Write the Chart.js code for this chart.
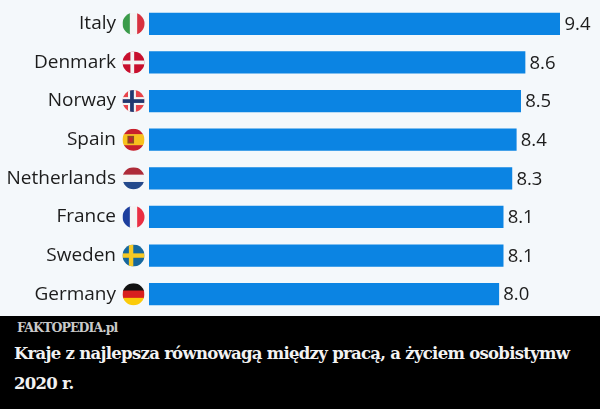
<!DOCTYPE html>
<html lang="pl">
<head>
<meta charset="utf-8">
<style>
  html, body { margin: 0; padding: 0; width: 600px; height: 409px; overflow: hidden; background: #000; }
  #plot { width: 600px; height: 316px; background: #f4f8fb; }
  canvas { display: block; }
  #footer { position: relative; height: 93px; background: #000; font-family: "DejaVu Serif", serif; font-weight: bold; }
  #brand { position: absolute; left: 17px; top: 2px; font-size: 12.5px; line-height: 19px; letter-spacing: -0.9px; color: #c9c9c9; }
  #caption { position: absolute; left: 14px; top: 23px; width: 570px; font-size: 16.5px; line-height: 30px; letter-spacing: -0.72px; color: #f2f2f2; }
</style>
</head>
<body>
<div id="plot"><canvas id="chart" width="600" height="316"></canvas></div>
<div id="footer">
  <div id="brand">FAKTOPEDIA.pl</div>
  <div id="caption">Kraje z najlepsza równowagą między pracą, a życiem osobistymw 2020 r.</div>
</div>
<script src="https://cdn.jsdelivr.net/npm/chart.js@4"></script>
<script>
const countries = ['Italy', 'Denmark', 'Norway', 'Spain', 'Netherlands', 'France', 'Sweden', 'Germany'];
const scores = [9.4, 8.6, 8.5, 8.4, 8.3, 8.1, 8.1, 8.0];

// flags, drawn inside a circle of radius r around the origin
const flags = {
  Italy(c, r) {
    stripesV(c, r, ['#3a9b4a', '#f4f4f4', '#d8313f']);
  },
  Denmark(c, r) {
    c.fillStyle = '#c8102e';
    c.fillRect(-r, -r, 2 * r, 2 * r);
    c.fillStyle = '#f4f4f4';
    c.fillRect(-r, -r * 0.17, 2 * r, r * 0.34);
    c.fillRect(-r * 0.28, -r, r * 0.34, 2 * r);
  },
  Norway(c, r) {
    c.fillStyle = '#e8434a';
    c.fillRect(-r, -r, 2 * r, 2 * r);
    c.fillStyle = '#f4f4f4';
    c.fillRect(-r, -r * 0.36, 2 * r, r * 0.72);
    c.fillRect(-r * 0.5, -r, r * 0.72, 2 * r);
    c.fillStyle = '#22386f';
    c.fillRect(-r, -r * 0.17, 2 * r, r * 0.34);
    c.fillRect(-r * 0.31, -r, r * 0.34, 2 * r);
  },
  Spain(c, r) {
    stripesH(c, r, ['#c8202c', '#f7c11e', '#f7c11e', '#c8202c']);
    c.fillStyle = '#8f4a22';
    c.fillRect(-r * 0.55, -r * 0.35, r * 0.6, r * 0.7);
    c.fillStyle = '#c8202c';
    c.fillRect(-r * 0.4, -r * 0.2, r * 0.3, r * 0.4);
  },
  Netherlands(c, r) {
    stripesH(c, r, ['#ae2b38', '#f4f4f4', '#254a8c']);
  },
  France(c, r) {
    stripesV(c, r, ['#1d3f9e', '#f4f4f4', '#ea2f43']);
  },
  Sweden(c, r) {
    c.fillStyle = '#16689e';
    c.fillRect(-r, -r, 2 * r, 2 * r);
    c.fillStyle = '#f6c925';
    c.fillRect(-r, -r * 0.2, 2 * r, r * 0.4);
    c.fillRect(-r * 0.42, -r, r * 0.4, 2 * r);
  },
  Germany(c, r) {
    stripesH(c, r, ['#111111', '#d8201f', '#fbcb0a']);
  }
};

function stripesV(c, r, cols) {
  const w = 2 * r / cols.length;
  cols.forEach((col, i) => { c.fillStyle = col; c.fillRect(-r + i * w, -r, w + 0.5, 2 * r); });
}

function stripesH(c, r, cols) {
  const h = 2 * r / cols.length;
  cols.forEach((col, i) => { c.fillStyle = col; c.fillRect(-r, -r + i * h, 2 * r, h + 0.5); });
}

const flagPlugin = {
  id: 'flags',
  afterDatasetsDraw(chart) {
    const c = chart.ctx;
    const y = chart.scales.y;
    countries.forEach((name, i) => {
      c.save();
      c.translate(133.5, y.getPixelForValue(i));
      c.beginPath();
      c.arc(0, 0, 11, 0, Math.PI * 2);
      c.clip();
      flags[name](c, 11);
      c.restore();
    });
  }
};

const valuePlugin = {
  id: 'values',
  afterDatasetsDraw(chart) {
    const c = chart.ctx;
    c.save();
    c.font = '18.5px "Open Sans"';
    c.fillStyle = '#1c1c1c';
    c.textAlign = 'left';
    c.textBaseline = 'middle';
    chart.getDatasetMeta(0).data.forEach((bar, i) => {
      c.fillText(scores[i].toFixed(1), bar.x + 4.5, bar.y + 1);
    });
    c.restore();
  }
};

new Chart(document.getElementById('chart'), {
  type: 'bar',
  data: {
    labels: countries,
    datasets: [{
      data: scores,
      backgroundColor: '#0b84e3',
      barThickness: 21.5
    }]
  },
  plugins: [flagPlugin, valuePlugin],
  options: {
    indexAxis: 'y',
    responsive: false,
    animation: false,
    layout: { padding: { top: 4.5, bottom: 2.5, right: 40 } },
    plugins: { legend: { display: false }, tooltip: { enabled: false } },
    scales: {
      x: { display: false, min: 0, max: 9.4 },
      y: {
        // tick padding also leaks into the vertical margins, so drop those
        afterFit(scale) {
          scale.width = 149;
          scale.paddingTop = 0;
          scale.paddingBottom = 0;
        },
        grid: { display: false, drawTicks: false },
        border: { display: false },
        ticks: {
          padding: 33,
          color: '#1c1c1c',
          font: { family: '"Open Sans"', size: 19 }
        }
      }
    }
  }
});
</script>
</body>
</html>
